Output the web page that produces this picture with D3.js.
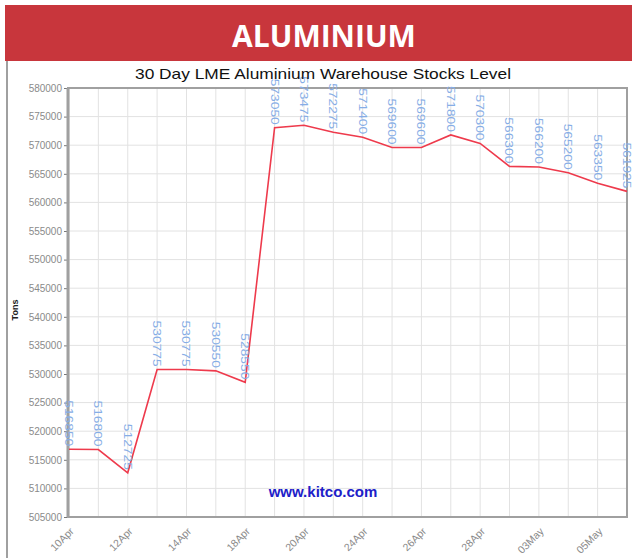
<!DOCTYPE html>
<html>
<head>
<meta charset="utf-8">
<script src="https://cdn.jsdelivr.net/npm/d3@7"></script>
<style>
  body { margin: 0; background: #fff; }
  svg { display: block; }
</style>
</head>
<body>
<div id="host"><svg></svg></div>
<script>
const WIDTH = 632;
const HEIGHT = 558;

// one entry per trading day
const DATES = [
  "10Apr", "11Apr", "12Apr", "13Apr", "14Apr", "17Apr", "18Apr", "19Apr",
  "20Apr", "21Apr", "24Apr", "25Apr", "26Apr", "27Apr", "28Apr", "02May",
  "03May", "04May", "05May", "08May",
];
const STOCKS = [
  516850, 516800, 512725, 530775, 530775, 530550, 528550, 573050,
  573475, 572275, 571400, 569600, 569600, 571800, 570300, 566300,
  566200, 565200, 563350, 561925,
];
const Y_TICKS = [
  505000, 510000, 515000, 520000, 525000, 530000, 535000, 540000,
  545000, 550000, 555000, 560000, 565000, 570000, 575000, 580000,
];

const HEADER_RED = "#c8363c";
const LINE_RED = "#ee3a4c";
const LABEL_BLUE = "#86ade6";
const GRID = "#e2e2e2";
const FRAME = "#a0a0a0";
const AXIS_TEXT = "#8a8a8a";
const FONT = "'Liberation Sans', Arial, sans-serif";

const M = { left: 68, right: 627, top: 88, bottom: 517 };

function drawHeader(svg) {
  svg.append("rect")
    .attr("x", 5).attr("y", 5)
    .attr("width", WIDTH - 5).attr("height", 56)
    .attr("fill", HEADER_RED);
  svg.append("text")
    .attr("x", 324).attr("y", 47)
    .attr("text-anchor", "middle")
    .attr("font-family", "'Open Sans', sans-serif")
    .attr("font-weight", "bold")
    .attr("font-size", 30)
    .attr("fill", "#fff")
    .text("ALUMINIUM");
  // left edge of the chart panel
  svg.append("line")
    .attr("x1", 7).attr("x2", 7)
    .attr("y1", 61).attr("y2", HEIGHT)
    .attr("stroke", FRAME).attr("stroke-width", 2);
}

function drawChart(svg) {
  const x = d3.scalePoint().domain(DATES).range([M.left + 1, M.right]);
  const y = d3.scaleLinear().domain([505000, 580000]).range([M.bottom, M.top]);

  // grid
  const grid = svg.append("g");
  grid.selectAll("line.h")
    .data(Y_TICKS)
    .join("line")
    .attr("class", "h")
    .attr("x1", M.left).attr("x2", M.right)
    .attr("y1", (d) => y(d)).attr("y2", (d) => y(d))
    .attr("stroke", GRID);
  grid.selectAll("line.v")
    .data(DATES)
    .join("line")
    .attr("class", "v")
    .attr("x1", (d) => x(d)).attr("x2", (d) => x(d))
    .attr("y1", M.top).attr("y2", M.bottom)
    .attr("stroke", GRID);

  // y axis
  const yAxis = svg.append("g")
    .attr("transform", `translate(${M.left},0)`)
    .call(d3.axisLeft(y).tickValues(Y_TICKS).tickSize(4).tickPadding(2).tickFormat(d3.format("d")));
  yAxis.select(".domain").remove();
  yAxis.selectAll("line").attr("stroke", "#777");
  yAxis.selectAll("text")
    .attr("fill", AXIS_TEXT)
    .attr("font-family", FONT)
    .attr("font-size", 10);

  // x axis, label every other day
  const xAxis = svg.append("g")
    .attr("transform", `translate(0,${M.bottom})`)
    .call(d3.axisBottom(x)
      .tickValues(DATES.filter((d, i) => i % 2 === 0))
      .tickSize(0));
  xAxis.select(".domain").remove();
  xAxis.selectAll("text")
    .attr("fill", AXIS_TEXT)
    .attr("font-family", FONT)
    .attr("font-size", 10.5)
    .attr("text-anchor", "end")
    .attr("y", 0)
    .attr("dy", 0)
    .attr("transform", "translate(5,15) rotate(-45)");

  // frame
  svg.append("rect")
    .attr("x", M.left).attr("y", M.top)
    .attr("width", M.right - M.left).attr("height", M.bottom - M.top)
    .attr("fill", "none")
    .attr("stroke", FRAME).attr("stroke-width", 2);
  svg.append("line")
    .attr("x1", M.left).attr("x2", M.left)
    .attr("y1", M.top).attr("y2", M.bottom)
    .attr("stroke", FRAME).attr("stroke-width", 3);

  // line
  const line = d3.line()
    .x((d, i) => x(DATES[i]))
    .y((d) => y(d));
  svg.append("path")
    .datum(STOCKS)
    .attr("d", line)
    .attr("fill", "none")
    .attr("stroke", LINE_RED)
    .attr("stroke-width", 1.6);

  // value labels, vertical, ending just above each point
  svg.append("g")
    .selectAll("text")
    .data(STOCKS)
    .join("text")
    .attr("transform", (d, i) => `translate(${x(DATES[i])},${y(d) - 3}) rotate(90)`)
    .attr("text-anchor", "end")
    .attr("dy", "0.35em")
    .attr("font-family", FONT)
    .attr("font-size", 11.5)
    .attr("textLength", 46)
    .attr("lengthAdjust", "spacingAndGlyphs")
    .attr("fill", LABEL_BLUE)
    .text((d) => d);

  // titles
  svg.append("text")
    .attr("x", 323).attr("y", 79)
    .attr("text-anchor", "middle")
    .attr("font-family", FONT)
    .attr("font-size", 15)
    .attr("textLength", 376)
    .attr("lengthAdjust", "spacingAndGlyphs")
    .attr("fill", "#111")
    .text("30 Day LME Aluminium Warehouse Stocks Level");

  svg.append("text")
    .attr("transform", `translate(18,310) rotate(-90)`)
    .attr("text-anchor", "middle")
    .attr("font-family", FONT)
    .attr("font-weight", "bold")
    .attr("font-size", 9)
    .attr("fill", "#222")
    .text("Tons");

  svg.append("text")
    .attr("x", 323).attr("y", 497)
    .attr("text-anchor", "middle")
    .attr("font-family", FONT)
    .attr("font-weight", "bold")
    .attr("font-size", 15)
    .attr("fill", "#2020c8")
    .text("www.kitco.com");
}

const svg = d3.select("#host svg").attr("width", WIDTH).attr("height", HEIGHT);
drawHeader(svg);
drawChart(svg);
</script>
</body>
</html>
